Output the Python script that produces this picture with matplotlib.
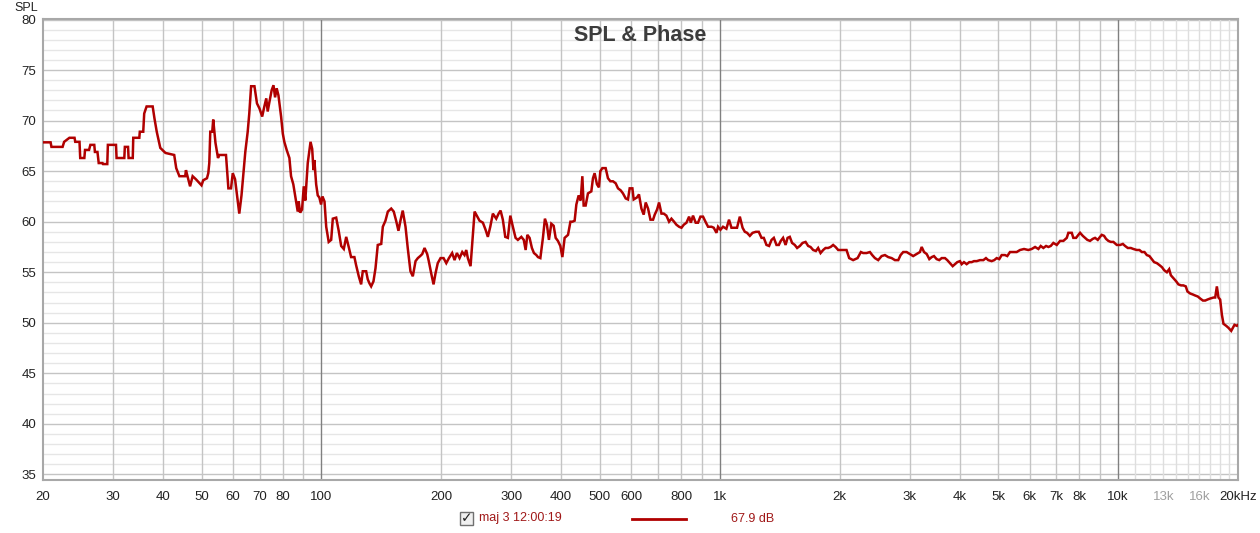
import numpy as np
import matplotlib
matplotlib.use("Agg")
import matplotlib.pyplot as plt
from matplotlib.patches import Rectangle
from matplotlib.lines import Line2D

freq_hz = [
    20.0, 20.9, 21.0, 22.4, 22.6, 23.3, 24.0, 24.1, 24.7, 24.8, 25.4, 25.5, 26.1, 26.3,
    26.9, 27.0, 27.4, 27.6, 28.2, 28.3, 29.0, 29.1, 30.5, 30.6, 32.0, 32.1, 32.7, 32.8,
    33.6, 33.7, 34.9, 35.0, 35.7, 35.9, 36.4, 37.7, 38.1, 38.6, 39.4, 40.6, 42.7, 43.2,
    44.0, 45.5, 45.7, 46.1, 46.8, 47.5, 48.4, 50.0, 50.5, 51.6, 52.0, 52.3, 52.6, 53.2,
    53.5, 54.2, 55.0, 55.4, 57.6, 58.4, 59.3, 59.9, 60.7, 61.3, 62.2, 63.0, 63.8, 64.4,
    65.3, 65.9, 66.6, 67.9, 68.9, 69.9, 71.0, 71.9, 72.7, 73.3, 74.0, 75.0, 75.8, 76.5,
    77.2, 78.0, 79.2, 80.0, 80.7, 81.8, 83.1, 83.9, 85.0, 86.4, 87.2, 87.7, 88.4, 89.4,
    90.3, 91.1, 92.4, 93.9, 94.8, 95.5, 96.0, 97.0, 97.9, 98.8, 99.8, 100.6, 101.8, 102.8,
    104.3, 105.8, 106.8, 108.9, 110.5, 112.1, 113.8, 115.4, 117.1, 118.7, 121.0, 122.2,
    124.1, 125.8, 127.0, 129.5, 130.7, 132.0, 133.3, 135.1, 136.7, 138.5, 141.3, 142.6,
    144.8, 146.8, 149.7, 151.9, 154.0, 156.1, 157.9, 160.0, 162.6, 164.7, 167.3, 169.6,
    172.3, 174.6, 177.0, 179.1, 181.5, 184.3, 186.0, 188.6, 191.2, 193.4, 195.9, 199.1,
    202.6, 205.8, 209.0, 212.9, 215.9, 218.8, 222.2, 225.7, 228.7, 231.0, 233.1, 236.8,
    239.2, 242.4, 246.2, 249.4, 254.3, 258.3, 261.7, 265.4, 269.4, 274.7, 278.5, 281.7,
    285.4, 289.4, 293.8, 298.0, 302.4, 307.2, 311.3, 317.6, 322.1, 325.6, 328.8, 333.1,
    337.6, 341.6, 346.4, 349.6, 354.5, 359.8, 364.0, 368.2, 372.5, 377.7, 382.8, 387.3,
    392.4, 397.9, 402.6, 407.9, 416.0, 421.8, 426.6, 432.2, 436.5, 442.3, 447.5, 451.9,
    455.3, 460.6, 466.8, 476.0, 480.5, 485.1, 491.7, 497.4, 501.4, 507.3, 517.1, 524.0,
    531.3, 539.3, 547.9, 555.3, 564.0, 571.5, 580.6, 588.3, 594.1, 603.5, 608.0, 619.7,
    626.9, 635.8, 644.3, 651.8, 660.7, 669.9, 680.1, 686.7, 696.0, 704.1, 713.9, 723.4,
    734.6, 746.0, 756.3, 767.8, 778.4, 790.4, 801.4, 812.2, 824.9, 837.6, 846.0, 856.8,
    870.1, 881.9, 894.3, 907.9, 920.7, 934.6, 953.6, 965.9, 981.1, 990.2, 1004, 1019,
    1039, 1055, 1070, 1091, 1105, 1123, 1141, 1156, 1171, 1190, 1209, 1232, 1253, 1273,
    1290, 1310, 1330, 1349, 1367, 1388, 1407, 1423, 1442, 1463, 1480, 1499, 1519, 1543,
    1564, 1589, 1614, 1642, 1667, 1690, 1716, 1743, 1766, 1791, 1818, 1843, 1871, 1898,
    1926, 1953, 1983, 2022, 2081, 2113, 2162, 2218, 2261, 2291, 2337, 2382, 2414, 2452,
    2499, 2549, 2598, 2648, 2701, 2753, 2806, 2844, 2888, 2945, 3002, 3059, 3121, 3181,
    3213, 3257, 3308, 3358, 3405, 3450, 3503, 3556, 3607, 3676, 3725, 3784, 3844, 3895,
    3947, 4009, 4049, 4103, 4167, 4231, 4290, 4348, 4417, 4502, 4590, 4659, 4721, 4815,
    4888, 4957, 5032, 5102, 5200, 5270, 5353, 5457, 5565, 5673, 5806, 5951, 6070, 6189,
    6308, 6394, 6493, 6595, 6684, 6776, 6879, 7016, 7151, 7289, 7433, 7502, 7651, 7720,
    7844, 7949, 8028, 8154, 8263, 8372, 8503, 8637, 8754, 8891, 9010, 9099, 9221, 9328,
    9454, 9587, 9732, 9925, 10120, 10280, 10413, 10577, 10762, 10926, 11145, 11314,
    11473, 11647, 11806, 11986, 12153, 12316, 12512, 12707, 12888, 13053, 13259, 13434,
    13567, 13775, 13992, 14171, 14393, 14583, 14790, 14931, 15166, 15405, 15612, 15853,
    16074, 16329, 16549, 16766, 17030, 17360, 17530, 17700, 17865, 18040, 18220, 18390,
    18680, 18930, 19230, 19420, 19600, 19870, 20000,
]
spl_db = [
    67.85, 67.85, 67.4, 67.4, 67.9, 68.3, 68.3, 67.9, 67.9, 66.3, 66.3, 67.1, 67.1, 67.6,
    67.6, 66.9, 66.9, 65.8, 65.8, 65.7, 65.7, 67.6, 67.6, 66.3, 66.3, 67.4, 67.4, 66.3,
    66.3, 68.3, 68.3, 68.9, 68.9, 70.7, 71.4, 71.4, 70.2, 68.9, 67.3, 66.8, 66.6, 65.3,
    64.5, 64.5, 65.1, 64.5, 63.5, 64.5, 64.2, 63.6, 64.1, 64.3, 64.8, 65.8, 68.9, 68.9,
    70.1, 67.8, 66.3, 66.6, 66.6, 63.3, 63.3, 64.8, 64.2, 62.8, 60.8, 62.6, 65.1, 66.9,
    68.9, 70.7, 73.4, 73.4, 71.7, 71.2, 70.4, 71.4, 72.2, 70.9, 71.8, 73.0, 73.5, 72.3,
    73.2, 72.5, 70.4, 68.7, 67.9, 67.1, 66.3, 64.5, 63.7, 62.0, 61.0, 62.0, 60.9, 61.2,
    63.5, 62.1, 65.8, 67.9, 67.2, 65.1, 66.1, 63.7, 62.6, 62.4, 61.7, 62.5, 62.0, 59.5,
    58.0, 58.2, 60.3, 60.4, 59.1, 57.6, 57.3, 58.5, 57.5, 56.5, 56.5, 55.7,
    54.6, 53.8, 55.1, 55.1, 54.3, 53.9, 53.6, 54.1, 55.4, 57.7, 57.8, 59.5,
    60.1, 61.0, 61.3, 61.0, 60.1, 59.1, 60.1, 61.1, 59.5, 57.4, 55.1, 54.6,
    56.1, 56.4, 56.6, 56.8, 57.4, 56.8, 56.1, 54.9, 53.8, 54.9, 55.9, 56.4,
    56.4, 55.9, 56.4, 56.9, 56.2, 56.9, 56.4, 57.0, 56.7, 57.2, 56.4, 55.6,
    57.9, 61.0, 60.5, 60.1, 59.9, 59.2, 58.5, 59.5, 60.8, 60.3, 60.8, 61.1,
    60.2, 58.5, 58.4, 60.6, 59.5, 58.4, 58.2, 58.5, 58.2, 57.2, 58.7, 58.4,
    57.4, 56.9, 56.7, 56.5, 56.4, 58.4, 60.3, 59.7, 58.2, 59.8, 59.6, 58.4,
    58.1, 57.6, 56.5, 58.4, 58.7, 60.0, 60.0, 60.1, 61.7, 62.6, 62.1, 64.5,
    61.6, 61.6, 62.8, 63.0, 64.3, 64.8, 63.7, 63.4, 65.0, 65.3, 65.3, 64.3,
    64.0, 64.0, 63.8, 63.3, 63.1, 62.8, 62.3, 62.2, 63.3, 63.3, 62.2, 62.4,
    62.7, 61.3, 60.7, 61.9, 61.3, 60.2, 60.2, 60.7, 61.2, 61.9, 60.8, 60.8,
    60.6, 60.0, 60.3, 60.0, 59.7, 59.5, 59.4, 59.7, 59.9, 60.5, 59.9, 60.6,
    59.9, 59.9, 60.5, 60.5, 60.0, 59.5, 59.5, 59.4, 58.9, 59.5, 59.2, 59.5,
    59.3, 60.2, 59.4, 59.4, 59.4, 60.5, 59.4, 59.0, 58.9, 58.6, 58.9, 59.0, 59.0, 58.4,
    58.4, 57.7, 57.6, 58.2, 58.4, 57.7, 57.7, 58.1, 58.4, 57.7, 58.4, 58.5, 57.9, 57.7,
    57.4, 57.6, 57.9, 58.0, 57.6, 57.5, 57.2, 57.1, 57.4, 56.9, 57.2, 57.4, 57.4, 57.5,
    57.7, 57.5, 57.2, 57.2, 57.2, 56.4, 56.2, 56.4, 57.0, 56.9, 56.9, 57.0, 56.7, 56.4,
    56.2, 56.6, 56.7, 56.5, 56.4, 56.2, 56.2, 56.7, 57.0, 57.0, 56.8, 56.6, 56.8, 57.0,
    57.5, 57.0, 56.8, 56.3, 56.5, 56.6, 56.3, 56.2, 56.4, 56.4, 56.2, 55.9, 55.6, 55.8,
    56.0, 56.1, 55.8, 56.0, 55.8, 56.0, 56.0, 56.1, 56.1, 56.2, 56.2, 56.4, 56.2, 56.1,
    56.2, 56.4, 56.3, 56.7, 56.7, 56.6, 57.0, 57.0, 57.0, 57.2, 57.3, 57.2, 57.3, 57.5,
    57.3, 57.6, 57.4, 57.6, 57.5, 57.6, 57.9, 57.7, 58.1, 58.1, 58.4, 58.9, 58.9, 58.4,
    58.4, 58.7, 58.9, 58.6, 58.4, 58.2, 58.1, 58.3, 58.4, 58.2, 58.5, 58.7, 58.6, 58.3,
    58.1, 58.0, 58.0, 57.7, 57.7, 57.8, 57.6, 57.4, 57.4, 57.3, 57.2, 57.2,
    57.0, 57.0, 56.7, 56.6, 56.3, 56.0, 55.9, 55.7, 55.5, 55.2, 55.0, 55.3,
    54.7, 54.4, 54.1, 53.8, 53.7, 53.7, 53.6, 53.1, 52.9, 52.8, 52.7, 52.6,
    52.4, 52.2, 52.2, 52.3, 52.4, 52.5, 52.5, 53.6, 52.5, 52.3, 50.8, 49.9,
    49.7, 49.5, 49.2, 49.5, 49.8, 49.7, 49.8,
]

# axis ticks / grid
y_ticks = [35, 40, 45, 50, 55, 60, 65, 70, 75, 80]
x_tick_vals = [20, 30, 40, 50, 60, 70, 80, 100, 200, 300, 400, 500, 600, 800,
               1000, 2000, 3000, 4000, 5000, 6000, 7000, 8000, 10000, 13000, 16000, 20000]
x_tick_labels = ["20", "30", "40", "50", "60", "70", "80", "100", "200", "300", "400",
                 "500", "600", "800", "1k", "2k", "3k", "4k", "5k", "6k", "7k", "8k",
                 "10k", "13k", "16k", "20kHz"]
legend_name = "maj 3 12:00:19"
legend_value = "67.9 dB"

W, H = 1260, 533
fig = plt.figure(figsize=(W / 100, H / 100), dpi=100)
fig.patch.set_facecolor("white")
plt.rcParams["font.family"] = ["Liberation Sans", "DejaVu Sans"]

x0, x1, yt, yb = 43, 1238, 19, 480
ax = fig.add_axes([x0 / W, 1 - yb / H, (x1 - x0) / W, (yb - yt) / H])
ax.set_xscale("log")
ax.set_xlim(20, 20000)
ax.set_ylim(34.45, 80.05)

# grid lines
for v in range(35, 81):
    c = "#c4c4c4" if v % 5 == 0 else "#e6e6e6"
    ax.axhline(v, color=c, lw=1, zorder=1)
grid_x = list(range(30, 100, 10)) + list(range(200, 1000, 100)) + list(range(2000, 10000, 1000))
for f in grid_x:
    ax.axvline(f, color="#c4c4c4", lw=1, zorder=1)
for f in range(11000, 20000, 1000):
    ax.axvline(f, color="#dedede", lw=1, zorder=1)
for f in [100, 1000, 10000]:
    ax.axvline(f, color="#808080", lw=1, zorder=1.5)

ax.plot(freq_hz, spl_db, color="#b00000", lw=1.8, zorder=3, solid_joinstyle="miter")

ax.set_yticks(y_ticks)
ax.set_yticklabels([str(v) for v in y_ticks], fontsize=9.5, color="#222222")
ax.set_xticks(x_tick_vals)
ax.set_xticklabels(x_tick_labels, fontsize=9.5, color="#222222")
ax.xaxis.set_minor_locator(matplotlib.ticker.NullLocator())
ax.tick_params(axis="both", length=0)
ax.tick_params(axis="x", pad=8)
ax.tick_params(axis="y", pad=5)
for lbl in ax.get_xticklabels():
    if lbl.get_text() in ("13k", "16k"):
        lbl.set_color("#a0a0a0")

for side, sp in ax.spines.items():
    sp.set_color("#a8a8a8")
    sp.set_linewidth(1.5)

ax.text(0.5, 0.965, "SPL & Phase", transform=ax.transAxes, ha="center", va="center",
        fontsize=15.5, fontweight="bold", color="#3c3c3c", zorder=4)
fig.text(38.5 / W, 1 - 8 / H, "SPL", ha="right", va="center", fontsize=9, color="#222222")

# legend row under the plot
fig.patches.append(Rectangle((460 / W, 1 - 525 / H), 13 / W, 13 / H, transform=fig.transFigure,
                             facecolor="#f0f0f0", edgecolor="#707070", lw=1))
fig.text(466.5 / W, 1 - 518.5 / H, "\u2713", ha="center", va="center", fontsize=10,
         fontweight="bold", color="#202020", family=["DejaVu Sans"])
fig.text(479 / W, 1 - 518.5 / H, legend_name, ha="left", va="center", fontsize=9, color="#a01818")
fig.lines.append(Line2D([632 / W, 686 / W], [1 - 518.5 / H, 1 - 518.5 / H], transform=fig.transFigure,
                        color="#b00000", lw=2))
fig.text(731 / W, 1 - 518.5 / H, legend_value, ha="left", va="center", fontsize=9, color="#a01818")

fig.savefig("out.png", dpi=100)
